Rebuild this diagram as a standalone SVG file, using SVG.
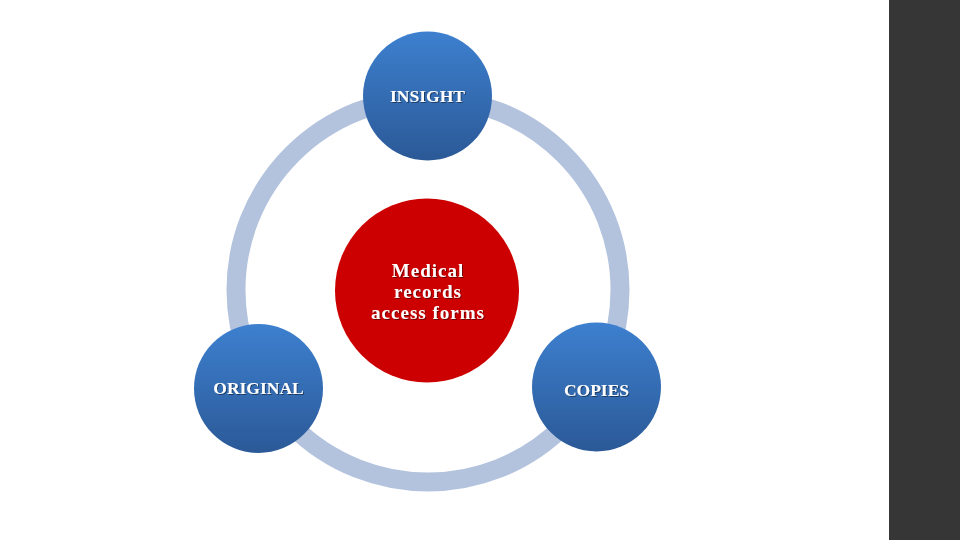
<svg xmlns="http://www.w3.org/2000/svg" width="960" height="540" viewBox="0 0 960 540">
  <defs>
    <linearGradient id="blueGrad" x1="0" y1="0" x2="0" y2="1">
      <stop offset="0" stop-color="#3d80cf"/>
      <stop offset="1" stop-color="#2b5997"/>
    </linearGradient>
    <filter id="txtShadow" x="-20%" y="-20%" width="140%" height="140%">
      <feDropShadow dx="1" dy="1" stdDeviation="0.6" flood-color="#000" flood-opacity="0.45"/>
    </filter>
  </defs>
  <style>
    .lbl { font-family: "Liberation Serif", "Times New Roman", serif; font-weight: bold; font-size: 17.5px; fill: #ffffff; text-anchor: middle; filter: url(#txtShadow); }
    .low { font-size: 19px; letter-spacing: 1px; }
    .blue { fill: url(#blueGrad); }
    .ring { fill: none; stroke: #b3c3de; stroke-width: 19; }
  </style>
  <rect x="0" y="0" width="960" height="540" fill="#ffffff"/>
  <rect x="889" y="0" width="71" height="540" fill="#363636"/>
  <g id="connectors">
    <circle class="ring" cx="428" cy="290" r="192"/>
  </g>
  <g id="center">
    <circle cx="427" cy="290.5" r="92" fill="#cc0000"/>
    <text class="lbl low" x="428" y="277">Medical</text>
    <text class="lbl low" x="428" y="298">records</text>
    <text class="lbl low" x="428" y="319">access forms</text>
  </g>
  <g id="insight">
    <circle class="blue" cx="427.5" cy="96" r="64.5"/>
    <text class="lbl" x="427.5" y="102">INSIGHT</text>
  </g>
  <g id="original">
    <circle class="blue" cx="258.5" cy="388.5" r="64.5"/>
    <text class="lbl" x="258.5" y="394">ORIGINAL</text>
  </g>
  <g id="copies">
    <circle class="blue" cx="596.5" cy="387" r="64.5"/>
    <text class="lbl" x="596.5" y="396">COPIES</text>
  </g>
</svg>
